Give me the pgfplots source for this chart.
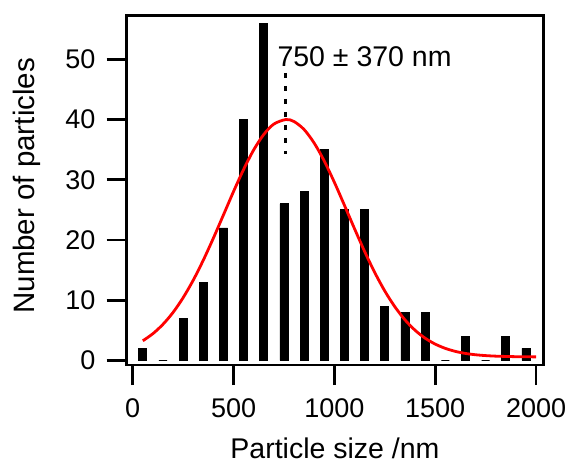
\documentclass[border=0pt]{standalone}
\usepackage{pgfplots}
\pgfplotsset{compat=1.18}
\usepackage{fontspec}
\setmainfont{Liberation Sans}
\begin{document}
\begin{tikzpicture}[font=\fontsize{27bp}{32bp}\selectfont]
\useasboundingbox (-126.7bp,-101bp) rectangle (444.3bp,365bp);
\begin{axis}[
  at={(0,0)}, anchor=south west,
  scale only axis, width=416.6bp, height=349.7bp,
  xmin=-30, xmax=2036, ymin=-0.75, ymax=57.3,
  axis line style={line width=2.6bp, black},
  xtick={0,500,1000,1500,2000},
  ytick={0,10,20,30,40,50},
  xtick pos=bottom, ytick pos=left,
  tick align=outside,
  major tick length=20bp,
  every tick/.style={black, line width=2.6bp},
  /pgf/number format/assume math mode=true,
  /pgf/number format/1000 sep={},
  xticklabel style={inner sep=0pt, anchor=north, yshift=-13bp},
  yticklabel style={inner sep=0pt, anchor=east, xshift=-11bp},
  xlabel={Particle size /nm},
  ylabel={Number of particles},
  every axis x label/.style={at={(axis description cs:0.5,-0.2079)}, anchor=north, inner sep=0pt, font=\fontsize{28.5bp}{33bp}\selectfont},
  every axis y label/.style={at={(axis description cs:-0.2729,0.5124)}, anchor=north, rotate=90, inner sep=0pt, font=\fontsize{29.5bp}{34bp}\selectfont},
  clip=false,
]
\addplot[ybar, bar width=40, fill=black, draw=black, line width=0.8bp] coordinates {
(50,2) (150,0) (250,7) (350,13) (450,22) (550,40) (650,56) (750,26) (850,28) (950,35)
(1050,25) (1150,25) (1250,9) (1350,8) (1450,8) (1550,0) (1650,4) (1750,0) (1850,4) (1950,2)
};
\addplot[red, line width=2.8bp, smooth, no markers] coordinates {
(50,3.27) (100,4.45) (150,6.01) (200,7.98) (250,10.43) (300,13.33) (350,16.66) (400,20.32)
(450,24.18) (500,28.06) (550,31.73) (600,34.97) (650,37.53) (700,39.25) (760,40.0) (800,39.66)
(850,38.33) (900,36.08) (950,33.09) (1000,29.57) (1050,25.75) (1100,21.86) (1150,18.09)
(1200,14.61) (1250,11.53) (1300,8.91) (1350,6.74) (1400,5.02) (1450,3.70) (1500,2.72)
(1550,2.01) (1600,1.51) (1650,1.17) (1700,0.95) (1750,0.81) (1800,0.72) (1850,0.67)
(1900,0.63) (1950,0.61) (2000,0.60)
};
\addplot[black, line width=3bp, dash pattern=on 5bp off 8bp, no markers] coordinates {(757,47.75) (757,34.2)};
\node[anchor=base west, inner sep=0pt, font=\fontsize{28.5bp}{33bp}\selectfont] at (axis cs:717,48.8) {750 ± 370 nm};
\end{axis}
\end{tikzpicture}
\end{document}
